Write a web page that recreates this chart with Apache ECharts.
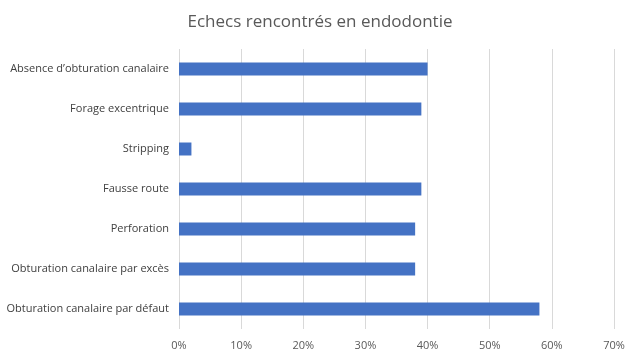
<!DOCTYPE html>
<html><head><meta charset="utf-8">
<script src="https://cdn.jsdelivr.net/npm/echarts@6/dist/echarts.min.js"></script>
<style>html,body{margin:0;padding:0;background:#fff}#c{width:640px;height:360px}</style>
</head><body><div id="c"></div>
<script>
const categories = ["Absence d’obturation canalaire","Forage excentrique","Stripping","Fausse route","Perforation","Obturation canalaire par excès","Obturation canalaire par défaut"];
const values = [0.40,0.39,0.02,0.39,0.38,0.38,0.58];
const titleText = "Echecs rencontrés en endodontie";
const chart = echarts.init(document.getElementById('c'));
chart.setOption({
  animation:false,
  title:{text:titleText,left:'center',top:9,textStyle:{fontFamily:'Open Sans',fontWeight:'normal',fontSize:17,color:'#595959'}},
  grid:{left:179,right:26,top:49,bottom:31},
  xAxis:{type:'value',min:0,max:0.7,interval:0.1,
    axisLine:{show:false},axisTick:{show:false},
    splitLine:{lineStyle:{color:'#d9d9d9'}},
    axisLabel:{color:'#595959',fontFamily:'Open Sans',fontSize:11,margin:11,formatter:v=>Math.round(v*100)+'%'}},
  yAxis:{type:'category',data:categories,inverse:true,
    axisLine:{show:false},axisTick:{show:false},
    axisLabel:{color:'#404040',fontFamily:'Open Sans',fontSize:11,margin:10}},
  series:[{type:'bar',data:values,barWidth:13,itemStyle:{color:'#4472C4'}}]
});
</script></body></html>
